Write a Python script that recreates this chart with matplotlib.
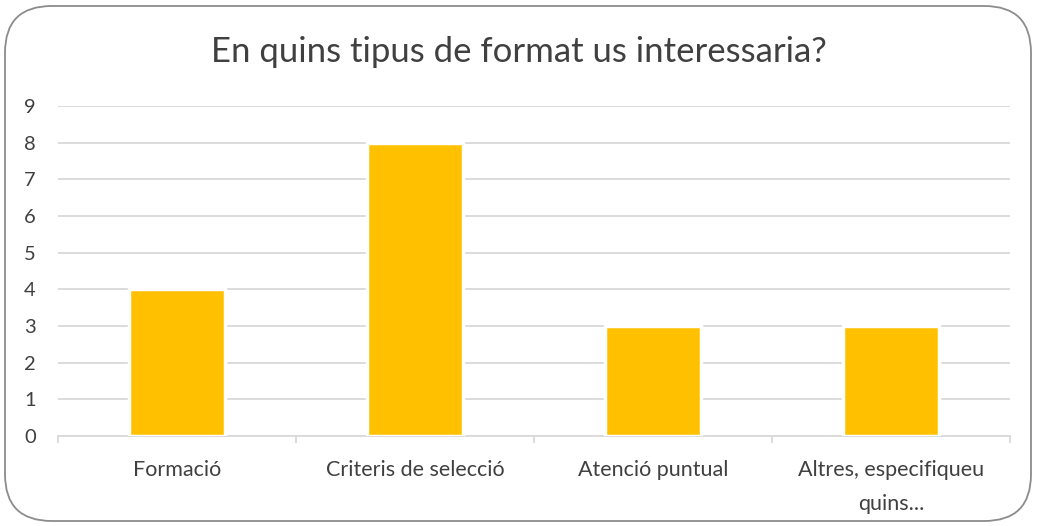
import matplotlib
matplotlib.use("Agg")
import matplotlib.pyplot as plt
from matplotlib.patches import FancyBboxPatch

categories = ["Formació", "Criteris de selecció", "Atenció puntual", "Altres, especifiqueu\nquins..."]
values = [4, 8, 3, 3]
yticks = list(range(0, 10))
title = "En quins tipus de format us interessaria?"

W, H = 1037, 526
fig = plt.figure(figsize=(W / 100, H / 100), dpi=100)
fig.patch.set_facecolor("white")

font = ["Lato", "DejaVu Sans"]
plt.rcParams['font.family'] = font

# plot area in pixel coords
x0, x1 = 58, 1010
y0, y9 = 436, 106
ymax = 9
ax = fig.add_axes([x0 / W, 1 - y0 / H, (x1 - x0) / W, (y0 - y9) / H])

xs = list(range(len(categories)))
ax.bar(xs, values, width=0.4, color="#FFC000", edgecolor="white", linewidth=2.5, zorder=3)

ax.set_xlim(-0.5, len(categories) - 0.5)
ax.set_ylim(0, ymax)
ax.set_yticks(yticks)
ax.set_yticklabels([str(t) for t in yticks])
ax.grid(axis="y", color="#D9D9D9", linewidth=1.3, zorder=0)
ax.set_axisbelow(True)
for s in ["top", "right", "left"]:
    ax.spines[s].set_visible(False)
ax.spines["bottom"].set_color("#D9D9D9")
ax.spines["bottom"].set_linewidth(1.3)

ax.set_xticks([x - 0.5 for x in range(len(categories) + 1)], minor=True)
ax.set_xticks(xs)
ax.set_xticklabels(categories, fontsize=15.5, color="#404040", linespacing=1.9)
ax.tick_params(axis="x", which="major", length=0, pad=17)
ax.tick_params(axis="x", which="minor", length=5, color="#D9D9D9", width=1.3)
ax.tick_params(axis="y", length=0, labelsize=14.5, labelcolor="#404040", pad=16)

fig.text(0.5, 1 - 52 / H, title, ha="center", va="center", fontsize=25, color="#404040")

border = FancyBboxPatch((5 / W, 5 / H), (W - 11) / W, (H - 11) / H,
                        boxstyle="round,pad=0,rounding_size=0.045",
                        transform=fig.transFigure, facecolor="none",
                        edgecolor="#8C8C8C", linewidth=1.3, mutation_aspect=W / H)
fig.patches.append(border)

fig.savefig("out.png", dpi=100)
